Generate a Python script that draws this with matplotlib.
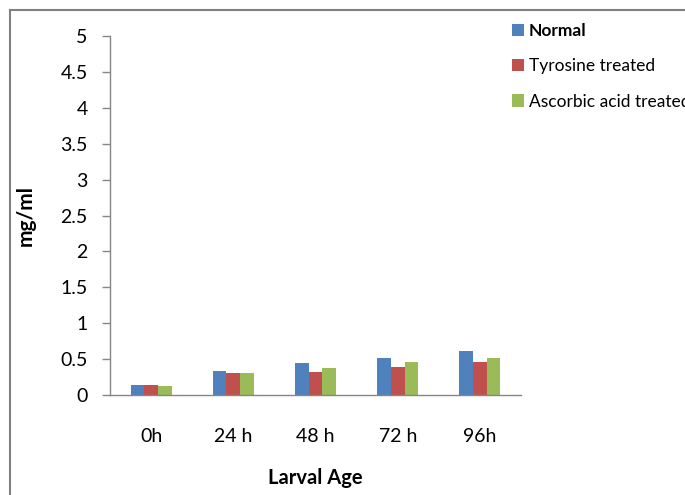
import matplotlib.pyplot as plt
import numpy as np
from matplotlib.lines import Line2D

plt.rcParams['font.family'] = ['Lato', 'DejaVu Sans']

# protein content by larval age
ages = ['0h', '24 h', '48 h', '72 h', '96h']
normal = [0.14, 0.34, 0.44, 0.52, 0.62]
tyrosine = [0.14, 0.31, 0.32, 0.39, 0.46]
ascorbic = [0.13, 0.30, 0.38, 0.46, 0.52]
series_names = ['Normal', 'Tyrosine treated', 'Ascorbic acid treated']
colors = ['#4F81BD', '#C0504D', '#9BBB59']

fig = plt.figure(figsize=(6.85, 4.95), dpi=100)
ax = fig.add_axes([0.1606, 0.202, 0.6, 0.725])

x = np.arange(len(ages))
w = 1 / 6
for i, (vals, c) in enumerate(zip([normal, tyrosine, ascorbic], colors)):
    ax.bar(x + (i - 1) * w, vals, width=w, color=c, label=series_names[i])

ax.set_xlim(-0.5, len(ages) - 0.5)
ax.set_ylim(0, 5)
ax.set_yticks(np.arange(0, 5.01, 0.5))
ax.set_yticklabels(['0', '0.5', '1', '1.5', '2', '2.5', '3', '3.5', '4', '4.5', '5'])
ax.set_xticks(x)
ax.set_xticklabels(ages)

grey = '#868686'
for s in ['top', 'right']:
    ax.spines[s].set_visible(False)
for s in ['left', 'bottom']:
    ax.spines[s].set_color(grey)
    ax.spines[s].set_linewidth(1.0)
ax.tick_params(axis='y', length=6, width=1.0, color=grey, labelsize=14, pad=10)
ax.tick_params(axis='x', length=0, labelsize=14, pad=24)

ax.set_xlabel('Larval Age', fontsize=14.5, fontweight='bold', labelpad=16)
ax.set_ylabel('mg/ml', fontsize=15, fontweight='bold', labelpad=18)

leg = ax.legend(loc='upper left', bbox_to_anchor=(0.96, 1.055), frameon=False,
                fontsize=12.5, handlelength=0.7, handleheight=0.7,
                handletextpad=0.3, labelspacing=1.1, borderaxespad=0)
leg.get_texts()[0].set_fontweight('bold')

# outer chart frame (only left and top edges fall inside the image)
fig.add_artist(Line2D([10 / 685, 10 / 685], [0, 1 - 10 / 495], transform=fig.transFigure,
                      color='#808080', lw=1.5))
fig.add_artist(Line2D([10 / 685, 1], [1 - 10 / 495, 1 - 10 / 495], transform=fig.transFigure,
                      color='#808080', lw=1.5))

fig.savefig('out.png', dpi=100)
